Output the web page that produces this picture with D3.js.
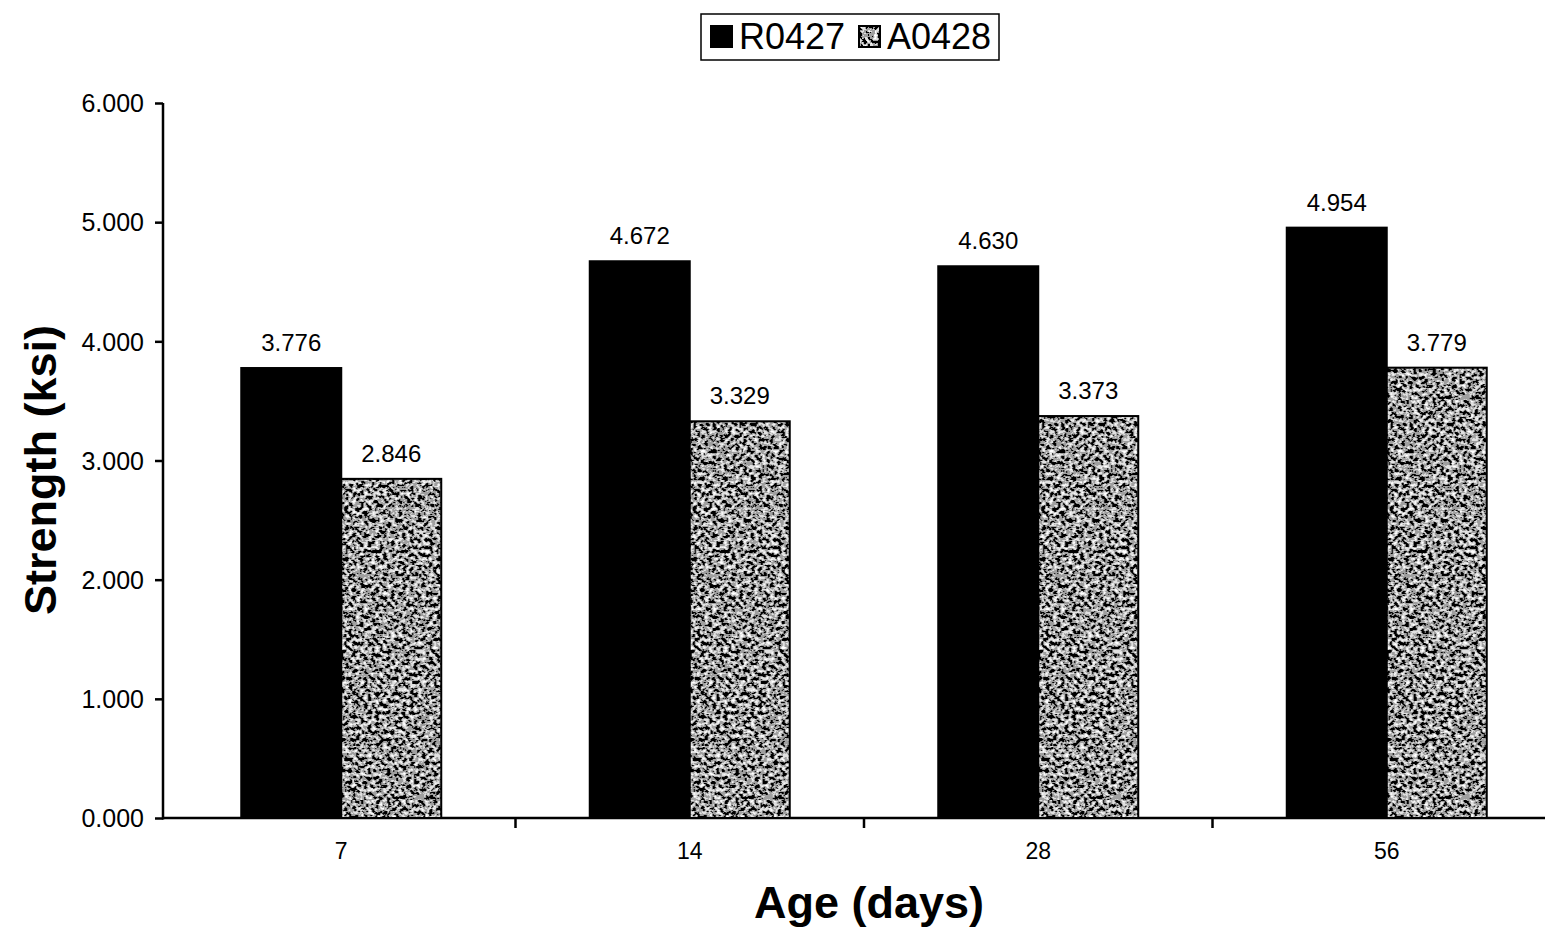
<!DOCTYPE html>
<html>
<head>
<meta charset="utf-8">
<script src="https://d3js.org/d3.v7.min.js"></script>
<style>
  body { margin: 0; background: #fff; }
  text { font-family: "Liberation Sans", Arial, sans-serif; fill: #000; }
</style>
</head>
<body>
<div id="chart"></div>
<script>
// chart data
const ages = ["7", "14", "28", "56"];
const seriesNames = ["R0427", "A0428"];
const r0427 = [3.776, 4.672, 4.630, 4.954];
const a0428 = [2.846, 3.329, 3.373, 3.779];
const yTicks = [0, 1, 2, 3, 4, 5, 6];

const width = 1545, height = 931;
const margin = {top: 103, right: 0, bottom: 113, left: 163};

let svg = d3.select("#chart").append("svg")
    .attr("width", width)
    .attr("height", height);

svg.append("rect").attr("width", width).attr("height", height).attr("fill", "#fff");

// speckled texture for the second series
let defs = svg.append("defs");
let filter = defs.append("filter").attr("id", "noise")
    .attr("x", 0).attr("y", 0).attr("width", "100%").attr("height", "100%");
filter.append("feTurbulence")
    .attr("type", "fractalNoise")
    .attr("baseFrequency", 0.26)
    .attr("numOctaves", 3)
    .attr("seed", 7)
    .attr("result", "t");
filter.append("feColorMatrix")
    .attr("type", "matrix")
    .attr("values", "1 0 0 0 0  1 0 0 0 0  1 0 0 0 0  0 0 0 0 1")
    .attr("result", "g");
let ct = filter.append("feComponentTransfer");
["feFuncR", "feFuncG", "feFuncB"].forEach(function(f) {
    ct.append(f).attr("type", "discrete").attr("tableValues", "0 0 0 0.35 0.75 1 1");
});

let pattern = defs.append("pattern").attr("id", "speckle")
    .attr("patternUnits", "userSpaceOnUse")
    .attr("width", 400).attr("height", 400);
pattern.append("rect").attr("width", 400).attr("height", 400)
    .attr("fill", "#777").attr("filter", "url(#noise)");

// scales
let x = d3.scaleBand()
    .domain(ages)
    .range([167, 1561])
    .paddingInner(0)
    .paddingOuter(0);

let x1 = d3.scaleBand()
    .domain(seriesNames)
    .range([-100, 100]);

let y = d3.scaleLinear()
    .domain([0, 6])
    .range([818, 103]);

// axes
let yAxis = d3.axisLeft(y)
    .tickValues(yTicks)
    .tickFormat(d3.format(".3f"))
    .tickSize(8)
    .tickSizeOuter(0);

let gy = svg.append("g")
    .attr("transform", "translate(" + margin.left + ",0)")
    .call(yAxis);
gy.select(".domain").attr("stroke", "#000").attr("stroke-width", 2.5)
    .attr("d", "M0," + y(6) + "V" + (y(0) + 1.5));
gy.selectAll(".tick line").attr("stroke", "#000").attr("stroke-width", 2.5);
gy.selectAll(".tick text")
    .attr("x", -19)
    .attr("dy", "0.35em")
    .style("font-size", "25px")
    .style("font-family", "Liberation Sans, Arial, sans-serif");

let xAxis = d3.axisBottom(x)
    .tickSize(0);

let gx = svg.append("g")
    .attr("transform", "translate(0," + y(0) + ")")
    .call(xAxis);
gx.select(".domain").attr("stroke", "#000").attr("stroke-width", 2.5)
    .attr("d", "M" + margin.left + ",0H" + width);
gx.selectAll(".tick text")
    .attr("y", 41)
    .attr("dy", "0em")
    .style("font-size", "23px")
    .style("font-family", "Liberation Sans, Arial, sans-serif");

// category separators
svg.selectAll(".sep")
    .data(ages.slice(1))
    .enter()
    .append("line")
    .attr("class", "sep")
    .attr("x1", function(d) { return x(d); })
    .attr("x2", function(d) { return x(d); })
    .attr("y1", y(0))
    .attr("y2", y(0) + 10)
    .attr("stroke", "#000")
    .attr("stroke-width", 2.5);

// bars
let rows = ages.map(function(a, i) {
    return {age: a, values: [
        {name: "R0427", v: r0427[i]},
        {name: "A0428", v: a0428[i]}
    ]};
});

let groups = svg.selectAll(".grp")
    .data(rows)
    .enter()
    .append("g")
    .attr("class", "grp")
    .attr("transform", function(d) { return "translate(" + (x(d.age) + x.bandwidth() / 2) + ",0)"; });

groups.selectAll("rect")
    .data(function(d) { return d.values; })
    .enter()
    .append("rect")
    .attr("x", function(d) { return x1(d.name); })
    .attr("width", x1.bandwidth())
    .attr("y", function(d) { return y(d.v); })
    .attr("height", function(d) { return y(0) - y(d.v); })
    .attr("fill", function(d) { return d.name === "R0427" ? "#000" : "url(#speckle)"; })
    .attr("stroke", "#000")
    .attr("stroke-width", 2);

groups.selectAll(".lbl")
    .data(function(d) { return d.values; })
    .enter()
    .append("text")
    .attr("class", "lbl")
    .attr("x", function(d) { return x1(d.name) + x1.bandwidth() / 2; })
    .attr("y", function(d) { return y(d.v) - 17; })
    .attr("text-anchor", "middle")
    .style("font-size", "24px")
    .text(function(d) { return d3.format(".3f")(d.v); });

// axis titles
svg.append("text")
    .attr("transform", "translate(56,470) rotate(-90)")
    .attr("text-anchor", "middle")
    .style("font-size", "45px")
    .style("font-weight", "bold")
    .text("Strength (ksi)");

svg.append("text")
    .attr("x", 869)
    .attr("y", 918)
    .attr("text-anchor", "middle")
    .style("font-size", "45px")
    .style("font-weight", "bold")
    .text("Age (days)");

// legend
let legend = svg.append("g").attr("transform", "translate(701,14)");
legend.append("rect")
    .attr("width", 298).attr("height", 46)
    .attr("fill", "#fff").attr("stroke", "#000").attr("stroke-width", 1.5);

let legX = [10, 158];
seriesNames.forEach(function(n, i) {
    legend.append("rect")
        .attr("x", legX[i]).attr("y", 12)
        .attr("width", 21).attr("height", 21)
        .attr("fill", i === 0 ? "#000" : "url(#speckle)")
        .attr("stroke", "#000").attr("stroke-width", 2);
    legend.append("text")
        .attr("x", legX[i] + 28).attr("y", 35)
        .style("font-size", "36px")
        .text(n);
});
</script>
</body>
</html>
